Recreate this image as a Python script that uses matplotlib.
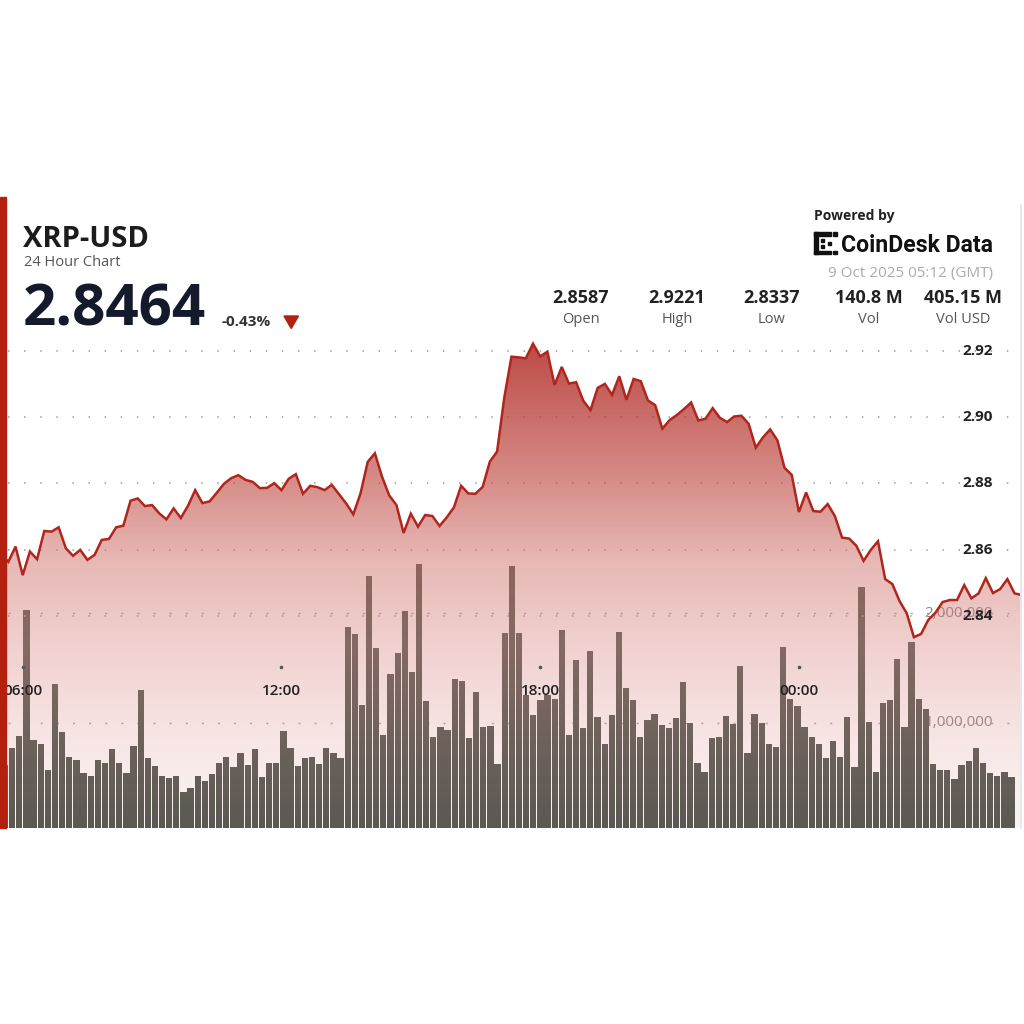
import numpy as np
import matplotlib
matplotlib.use("Agg")
import matplotlib.pyplot as plt
from matplotlib.patches import Rectangle, Polygon
from matplotlib.transforms import blended_transform_factory

plt.rcParams['font.family'] = ['Open Sans', 'DejaVu Sans']
plt.rcParams['lines.scale_dashes'] = False

# ---------------- data ----------------
symbol = "XRP-USD"
subtitle = "24 Hour Chart"
last_price = "2.8464"
change_pct = "-0.43%"
stamp = "9 Oct 2025 05:12 (GMT)"
stat_values = ["2.8587", "2.9221", "2.8337", "140.8 M", "405.15 M"]
stat_names = ["Open", "High", "Low", "Vol", "Vol USD"]

start_time = "05:30"          # first 10-minute step
step_minutes = 10
time_labels = ["06:00", "12:00", "18:00", "00:00"]
price_ticks = [2.84, 2.86, 2.88, 2.90, 2.92]
volume_ticks = [1_000_000, 2_000_000]

price = [
    2.8587, 2.8564, 2.8610, 2.8524, 2.8595, 2.8572, 2.8657, 2.8655, 2.8668, 2.8605,
    2.8582, 2.8600, 2.8570, 2.8585, 2.8630, 2.8633, 2.8668, 2.8673, 2.8748, 2.8755,
    2.8732, 2.8735, 2.8710, 2.8692, 2.8725, 2.8696, 2.8733, 2.8780, 2.8741, 2.8746,
    2.8772, 2.8799, 2.8816, 2.8825, 2.8811, 2.8805, 2.8786, 2.8787, 2.8801, 2.8780,
    2.8814, 2.8828, 2.8769, 2.8793, 2.8789, 2.8780, 2.8796, 2.8768, 2.8740, 2.8707,
    2.8770, 2.8865, 2.8891, 2.8820, 2.8764, 2.8735, 2.8651, 2.8709, 2.8670, 2.8705,
    2.8702, 2.8672, 2.8698, 2.8728, 2.8793, 2.8770, 2.8769, 2.8790, 2.8866, 2.8896,
    2.9058, 2.9182, 2.9180, 2.9177, 2.9221, 2.9183, 2.9197, 2.9097, 2.9151, 2.9101,
    2.9105, 2.9049, 2.9021, 2.9088, 2.9100, 2.9067, 2.9123, 2.9052, 2.9115, 2.9108,
    2.9050, 2.9036, 2.8965, 2.8991, 2.9006, 2.9024, 2.9044, 2.8990, 2.8995, 2.9027,
    2.8998, 2.8985, 2.9002, 2.9004, 2.8980, 2.8908, 2.8939, 2.8963, 2.8930, 2.8847,
    2.8826, 2.8714, 2.8773, 2.8717, 2.8715, 2.8738, 2.8702, 2.8637, 2.8634, 2.8612,
    2.8567, 2.8600, 2.8626, 2.8512, 2.8497, 2.8446, 2.8409, 2.8337, 2.8347, 2.8389,
    2.8411, 2.8443, 2.8449, 2.8449, 2.8494, 2.8454, 2.8469, 2.8515, 2.8470, 2.8482,
    2.8512, 2.8469, 2.8464,
]

volume_millions = [
    0.61, 0.77, 0.88, 2.03, 0.84, 0.80, 0.57, 1.35, 0.91, 0.69,
    0.66, 0.54, 0.51, 0.66, 0.63, 0.76, 0.63, 0.54, 0.79, 1.30,
    0.68, 0.60, 0.51, 0.49, 0.51, 0.37, 0.40, 0.51, 0.47, 0.53,
    0.63, 0.69, 0.59, 0.72, 0.61, 0.76, 0.50, 0.63, 0.63, 0.92,
    0.77, 0.60, 0.68, 0.69, 0.62, 0.77, 0.72, 0.68, 1.87, 1.81,
    1.16, 2.34, 1.68, 0.89, 1.44, 1.64, 2.02, 1.46, 2.45, 1.20,
    0.87, 0.96, 0.93, 1.40, 1.38, 0.86, 1.28, 0.96, 0.97, 0.62,
    1.82, 2.43, 1.82, 1.25, 1.07, 1.21, 1.25, 1.22, 1.85, 0.89,
    1.57, 0.95, 1.65, 1.05, 0.80, 1.07, 1.83, 1.32, 1.21, 0.87,
    1.02, 1.08, 0.98, 0.95, 1.04, 1.37, 1.00, 0.63, 0.55, 0.86,
    0.87, 1.06, 0.99, 1.52, 0.72, 1.08, 1.00, 0.80, 0.78, 1.69,
    1.22, 1.15, 0.96, 0.87, 0.80, 0.68, 0.83, 0.69, 1.05, 0.59,
    2.24, 1.01, 0.55, 1.18, 1.21, 1.58, 0.96, 1.74, 1.22, 1.12,
    0.62, 0.57, 0.57, 0.48, 0.61, 0.65, 0.77, 0.63, 0.54, 0.51,
    0.55, 0.50,
]

# ---------------- layout (pixels of a 1024x1024 canvas) ----------------
W = H = 1024
fx = lambda x: x / W
fy = lambda y: 1 - y / H
PLOT_L, PLOT_R, PLOT_T, PLOT_B = 0, 1020, 335, 828

fig = plt.figure(figsize=(10.24, 10.24), dpi=100)
fig.patch.set_facecolor("white")
rect = [fx(PLOT_L), fy(PLOT_B), fx(PLOT_R) - fx(PLOT_L), fy(PLOT_T) - fy(PLOT_B)]

ax_v = fig.add_axes(rect)                      # volume (drawn first, underneath)
ax_p = fig.add_axes(rect, facecolor="none")    # price (on top)
for a in (ax_v, ax_p):
    a.set_axis_off()

steps = np.arange(len(price))
x_lim = (-0.16, 141.76)
ax_p.set_xlim(*x_lim)
ax_v.set_xlim(*x_lim)
ax_p.set_ylim(2.77623, 2.92473)
ax_v.set_ylim(0.0366e6, 4.543e6)

# --- volume gridlines + labels (under bars) ---
tv = blended_transform_factory(ax_v.transAxes, ax_v.transData)
for v in volume_ticks:
    ax_v.plot([0.008, 1.0], [v, v], transform=tv, color="#a9a0a0", lw=1.0,
              linestyle=(0, (1.5, 10.1)), zorder=0.5)
    ax_v.text(0.9735, v, f"{v:,.0f}", transform=tv, ha="right", va="center",
              fontsize=11, color="#8a8585", zorder=1)

# --- volume bars (band scale slightly narrower than time scale) ---
band_step, band_offset = 0.9932, 0.104
vol = np.array(volume_millions) * 1e6
bar_x = band_offset + band_step * np.arange(len(vol))
ax_v.bar(bar_x, vol, width=0.877 * band_step, align="edge", color="#50564f",
         linewidth=0, zorder=2)

# --- price gridlines ---
tp = blended_transform_factory(ax_p.transAxes, ax_p.transData)
for p in price_ticks:
    ax_p.plot([0.008, 1.0], [p, p], transform=tp, color="#ababab", lw=1.4,
              linestyle=(0, (1.0, 10.6)), zorder=0.5)

# --- gradient area fill ---
fill = ax_p.fill_between(steps, price, 2.77623, facecolor="none", edgecolor="none")
rows = np.arange(PLOT_T, PLOT_B) + 0.5
ys = [340, 480, 560, 650, 740, 830]
Wr = np.interp(rows, ys, [188, 215, 231, 241, 247, 252])
Wg = np.interp(rows, ys, [72, 140, 184, 210, 230, 246])
Wb = np.interp(rows, ys, [68, 135, 182, 208, 229, 246])
al = np.interp(rows, ys, [0.86, 0.66, 0.50, 0.38, 0.22, 0.07])
img = np.zeros((len(rows), 1, 4))
for i, Wc in enumerate((Wr, Wg, Wb)):
    img[:, 0, i] = np.clip((Wc - (1 - al) * 255) / al, 0, 255) / 255
img[:, 0, 3] = al
im = ax_p.imshow(img, extent=(x_lim[0], x_lim[1], 2.77623, 2.92473), origin="upper",
                 aspect="auto", interpolation="bilinear", zorder=3)
im.set_clip_path(fill.get_paths()[0], transform=ax_p.transData)

# --- price line ---
ax_p.plot(steps, price, color="#b0261d", lw=1.8, zorder=4, solid_joinstyle="miter")

# --- price labels ---
for p in price_ticks:
    ax_p.text(0.9431, p, f"{p:.2f}", transform=tp, ha="left", va="center",
              fontsize=11, fontweight="bold", color="#222222", zorder=6)

# --- time labels ---
h0, m0 = map(int, start_time.split(":"))
tt = blended_transform_factory(ax_p.transData, ax_p.transAxes)
for lab in time_labels:
    h, m = map(int, lab.split(":"))
    k = (((h * 60 + m) - (h0 * 60 + m0)) % 1440) / step_minutes
    ax_p.text(k, 0.2779, lab, transform=tt, ha="center", va="center",
              fontsize=11, fontweight="semibold", color="#222222", zorder=6)
    ax_p.plot([k], [0.3266], transform=tt, marker="o", ms=1.6, color="#555555",
              zorder=6)

# ---------------- header ----------------
fig.add_artist(Rectangle((0, fy(828)), fx(6), fy(197) - fy(828),
                         transform=fig.transFigure, color="#b3200f", zorder=10))
fig.add_artist(plt.Line2D([fx(1020.5), fx(1020.5)], [fy(205), fy(828)],
                          transform=fig.transFigure, color="#e4e4e4", lw=1.2))

fig.text(fx(23), fy(247), symbol, fontsize=21, fontweight="bold", color="#1c1c1c",
         ha="left", va="baseline")
fig.text(fx(24), fy(266), subtitle, fontsize=10.5, color="#555555",
         ha="left", va="baseline")
fig.text(fx(23), fy(325), last_price, fontsize=42, fontweight="bold", color="#141a2b",
         ha="left", va="baseline")
fig.text(fx(222), fy(326), change_pct, fontsize=11, fontweight="bold", color="#333333",
         ha="left", va="baseline")
fig.add_artist(Polygon([[fx(284), fy(316)], [fx(298.5), fy(316)], [fx(291.2), fy(328.5)]],
                       closed=True, transform=fig.transFigure, color="#b3200f"))

fig.text(fx(814), fy(220), "Powered by", fontsize=10, fontweight="bold", color="#222222",
         ha="left", va="baseline")
# logo mark
for (x0, y0, w, h) in [(814, 232, 4, 22), (814, 232, 17, 3.5), (814, 250.5, 17, 3.5),
                       (833, 232, 4, 3.5), (833, 250.5, 4, 3.5), (821, 239, 3, 3),
                       (821, 245, 3, 3), (828, 241.5, 3, 3)]:
    fig.add_artist(Rectangle((fx(x0), fy(y0 + h)), w / W, h / H,
                             transform=fig.transFigure, color="#111111"))
fig.text(fx(841), fy(252), "CoinDesk Data", fontsize=16.6, fontweight="bold",
         color="#111111", ha="left", va="baseline", family=["Roboto", "DejaVu Sans"])
fig.text(fx(993), fy(277), stamp, fontsize=11, color="#ababab",
         ha="right", va="baseline")

stat_x = [581, 677, 772, 869, 963.5]
for xv, val, name in zip(stat_x, stat_values, stat_names):
    fig.text(fx(xv), fy(303), val, fontsize=13, fontweight="bold", color="#222222",
             ha="center", va="baseline")
    fig.text(fx(xv), fy(323), name, fontsize=10.5, color="#555555",
             ha="center", va="baseline")

fig.savefig("out.png", dpi=100, facecolor="white")
